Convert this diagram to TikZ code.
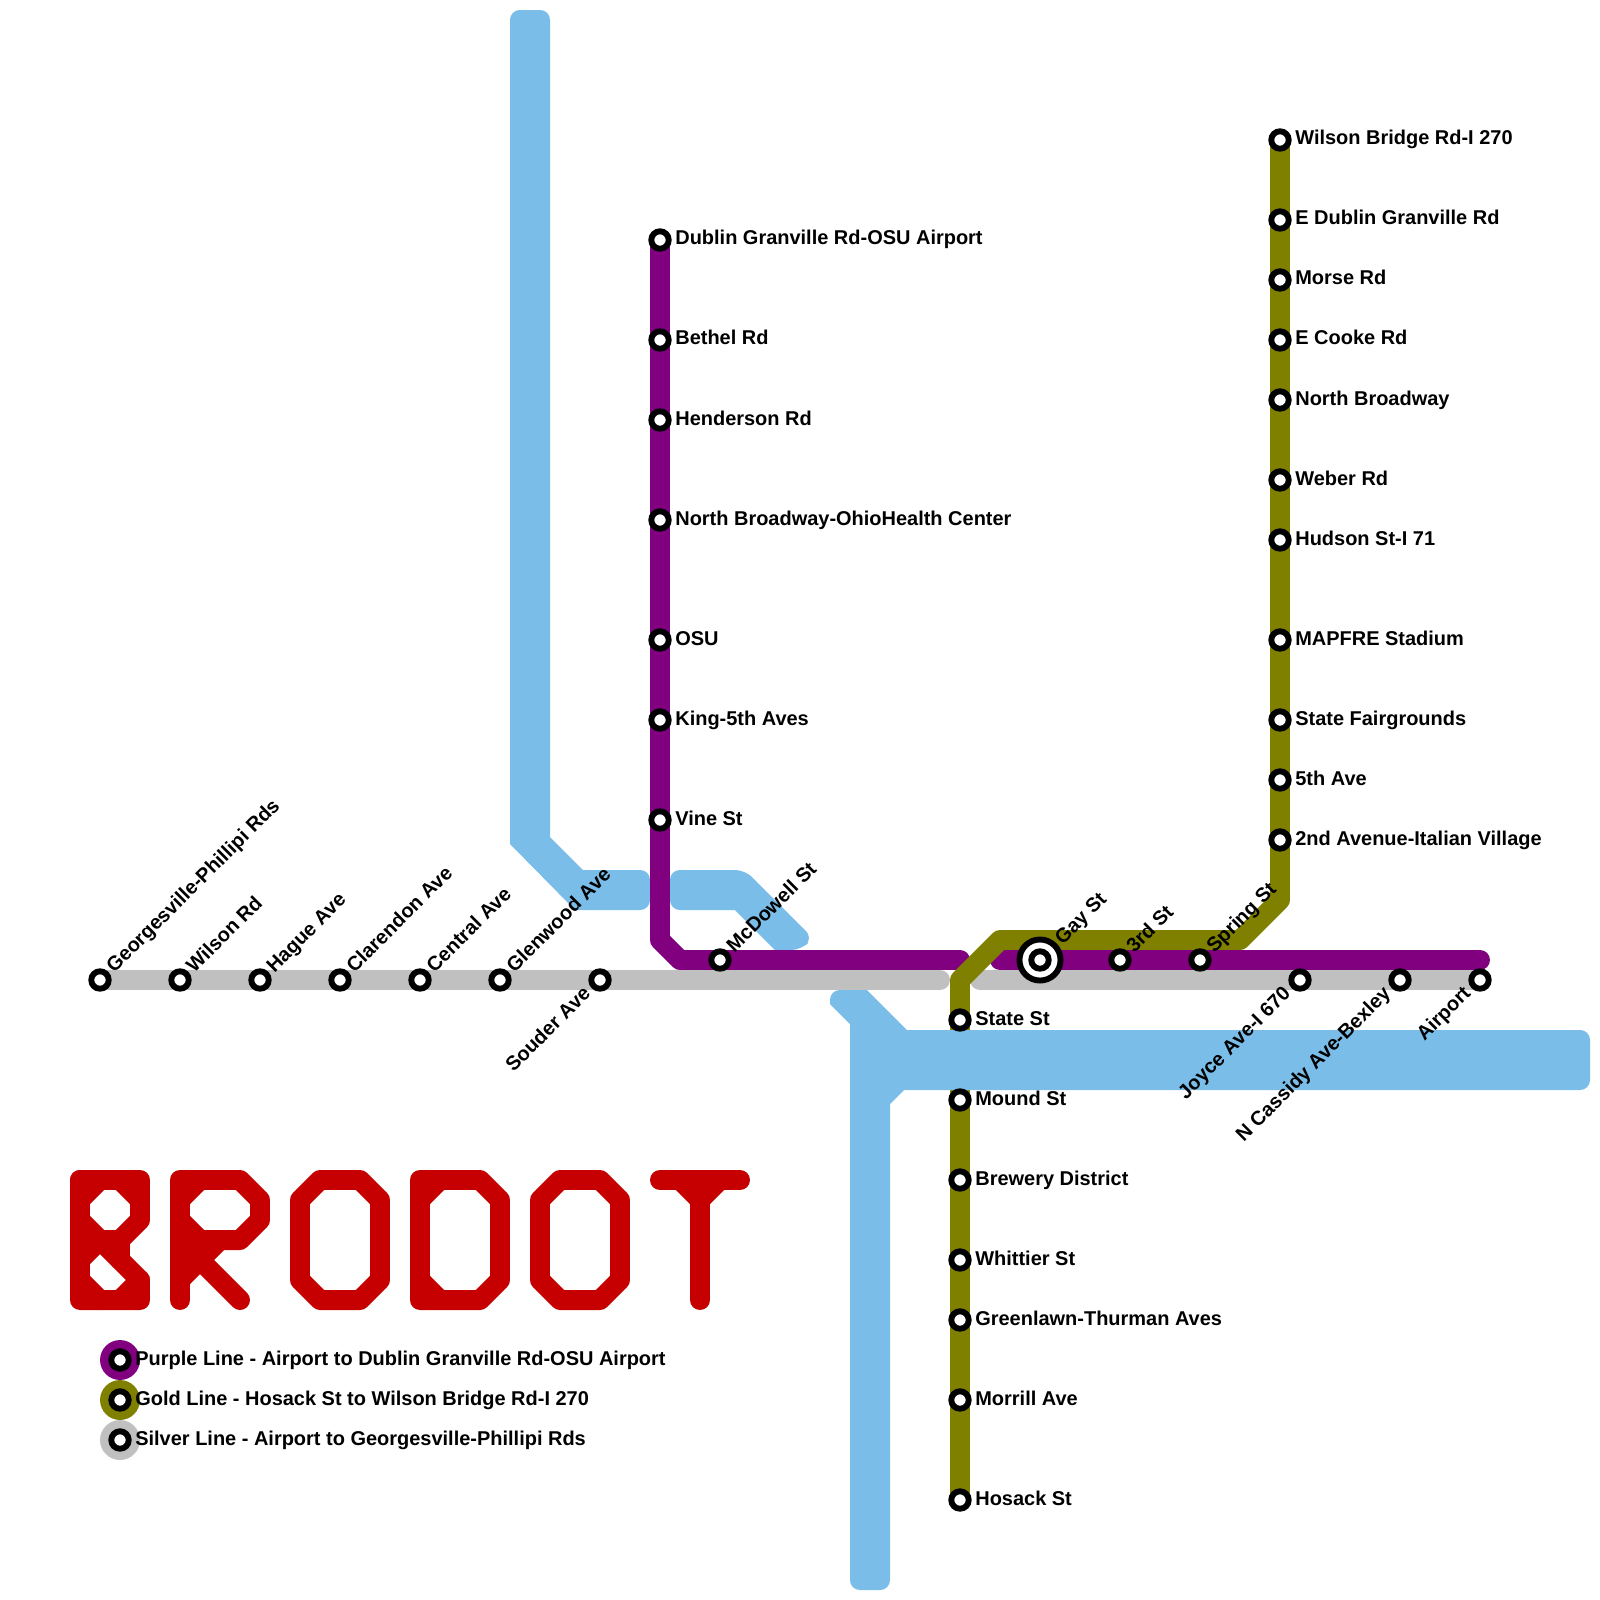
\documentclass[tikz,border=0pt]{standalone}
\usepackage{fontspec}
\setmainfont{Liberation Sans}
\usepackage{xcolor}
\usetikzlibrary{backgrounds}
\definecolor{riverblue}{HTML}{7ABDE9}
\definecolor{purpleln}{HTML}{800080}
\definecolor{goldln}{HTML}{808000}
\definecolor{silverln}{HTML}{C0C0C0}
\definecolor{logored}{HTML}{C60000}
\tikzstyle{stn} = [circle, draw=black, fill=white, line width=4.2pt, minimum size=12.4pt, inner sep=0pt]
\tikzstyle{stnbig} = [stn, minimum size=29.2pt]
\tikzstyle{legdisc} = [circle, minimum size=28.4pt, inner sep=0pt]
\tikzstyle{lblright} = [anchor=base west, inner sep=0pt, label distance=2.4pt, yshift=-3.55pt]
\tikzstyle{lblne} = [anchor=base west, inner sep=0pt, xshift=4.3pt, yshift=-1.4pt, rotate=45]
\tikzstyle{lblsw} = [anchor=base east, inner sep=0pt, yshift=-4.5pt, rotate=45]
\tikzstyle{river} = [fill=riverblue, rounded corners=7pt]
\tikzstyle{metroln} = [line width=14.2pt, line cap=round, line join=round]
\tikzstyle{logoln} = [line width=14.2pt, line cap=round, line join=round, color=logored]
\begin{document}
\begin{tikzpicture}[x=0.025cm, y=-0.025cm, font=\fontsize{14.2}{17}\bfseries\selectfont]
  \useasboundingbox (0,0) rectangle (1600,1600);

  % Silver
  \node[stn, label={[lblne]45:Georgesville-Phillipi Rds}](georgesville) at (100,980){};
  \node[stn, label={[lblne]45:Wilson Rd}](wilsonrd) at (180,980){};
  \node[stn, label={[lblne]45:Hague Ave}](hague) at (260,980){};
  \node[stn, label={[lblne]45:Clarendon Ave}](clarendon) at (340,980){};
  \node[stn, label={[lblne]45:Central Ave}](central) at (420,980){};
  \node[stn, label={[lblne]45:Glenwood Ave}](glenwood) at (500,980){};
  \node[stn, label={[lblsw]225:Souder Ave}](souder) at (600,980){};
  \node[stn, label={[lblsw]225:Joyce Ave-I 670}](joyce) at (1300,980){};
  \node[stn, label={[lblsw]225:N Cassidy Ave-Bexley}](cassidy) at (1400,980){};
  \node[stn, label={[lblsw]225:Airport}](airport) at (1480,980){};

  % Purple
  \node[stn, label={[lblright]right:Dublin Granville Rd-OSU Airport}](dublin) at (660,240){};
  \node[stn, label={[lblright]right:Bethel Rd}](bethel) at (660,340){};
  \node[stn, label={[lblright]right:Henderson Rd}](henderson) at (660,420){};
  \node[stn, label={[lblright]right:North Broadway-OhioHealth Center}](ohiohealth) at (660,520){};
  \node[stn, label={[lblright]right:OSU}](osu) at (660,640){};
  \node[stn, label={[lblright]right:King-5th Aves}](king) at (660,720){};
  \node[stn, label={[lblright]right:Vine St}](vine) at (660,820){};
  \node[stn, label={[lblne]45:McDowell St}](mcdowell) at (720,960){};
  \node[stnbig, label={[lblne]45:Gay St}](gayring) at (1040,960){};
  \node[stn](gay) at (1040,960){};
  \node[stn, label={[lblne]45:3rd St}](third) at (1120,960){};
  \node[stn, label={[lblne]45:Spring St}](spring) at (1200,960){};

  % Gold
  \node[stn, label={[lblright]right:Wilson Bridge Rd-I 270}](wilsonbridge) at (1280,140){};
  \node[stn, label={[lblright]right:E Dublin Granville Rd}](edublin) at (1280,220){};
  \node[stn, label={[lblright]right:Morse Rd}](morse) at (1280,280){};
  \node[stn, label={[lblright]right:E Cooke Rd}](cooke) at (1280,340){};
  \node[stn, label={[lblright]right:North Broadway}](broadway) at (1280,400){};
  \node[stn, label={[lblright]right:Weber Rd}](weber) at (1280,480){};
  \node[stn, label={[lblright]right:Hudson St-I 71}](hudson) at (1280,540){};
  \node[stn, label={[lblright]right:MAPFRE Stadium}](mapfre) at (1280,640){};
  \node[stn, label={[lblright]right:State Fairgrounds}](fair) at (1280,720){};
  \node[stn, label={[lblright]right:5th Ave}](fifth) at (1280,780){};
  \node[stn, label={[lblright]right:2nd Avenue-Italian Village}](second) at (1280,840){};
  \node[stn, label={[lblright]right:State St}](state) at (960,1020){};
  \node[stn, label={[lblright]right:Mound St}](mound) at (960,1100){};
  \node[stn, label={[lblright]right:Brewery District}](brewery) at (960,1180){};
  \node[stn, label={[lblright]right:Whittier St}](whittier) at (960,1260){};
  \node[stn, label={[lblright]right:Greenlawn-Thurman Aves}](greenlawn) at (960,1320){};
  \node[stn, label={[lblright]right:Morrill Ave}](morrill) at (960,1400){};
  \node[stn, label={[lblright]right:Hosack St}](hosack) at (960,1500){};

  % Legend
  \node[legdisc, fill=purpleln](legpurple) at (120,1360){};
  \node[legdisc, fill=goldln](leggold) at (120,1400){};
  \node[legdisc, fill=silverln](legsilver) at (120,1440){};
  \node[stn, label={[lblright]right:Purple Line - Airport to Dublin Granville Rd-OSU Airport}](keypurple) at (legpurple){};
  \node[stn, label={[lblright]right:Gold Line - Hosack St to Wilson Bridge Rd-I 270}](keygold) at (leggold){};
  \node[stn, label={[lblright]right:Silver Line - Airport to Georgesville-Phillipi Rds}](keysilver) at (legsilver){};

  % Bends and line ends
  \coordinate (silverend) at (940,980);
  \coordinate (silverstart) at (980,980);
  \coordinate (purplebend) at (660,940);
  \coordinate (purplelow) at (680,960);
  \coordinate (purpleend) at (960,960);
  \coordinate (purplestart) at (1000,960);
  \coordinate (purpletail) at (1480,960);
  \coordinate (goldlow) at (960,980);
  \coordinate (goldtop) at (1000,940);
  \coordinate (goldright) at (1240,940);
  \coordinate (goldup) at (1280,900);

  \begin{scope}[on background layer]
    % Rivers, upper part
    \fill[river] (530,10) -- (550,10) [sharp corners] -- (550,837) -- (583,870)
      [rounded corners=7pt] -- (650,870) -- (650,910) [sharp corners] -- (575,910)
      -- (510,844) [rounded corners=7pt] -- (510,10) -- cycle;
    \fill[river] (700,870) -- (745,870) -- (813,938) -- (801,950)
      [sharp corners] -- (775,950) -- (735,910) [rounded corners=7pt]
      -- (670,910) -- (670,870) -- cycle;
    % Lines
    \draw[metroln, silverln] (georgesville.center) -- (silverend);
    \draw[metroln, silverln] (silverstart) -- (airport.center);
    \draw[metroln, purpleln] (dublin.center) -- (purplebend) -- (purplelow) -- (purpleend);
    \draw[metroln, purpleln] (purplestart) -- (purpletail);
    \draw[metroln, goldln] (hosack.center) -- (goldlow) -- (goldtop) -- (goldright) -- (goldup) -- (wilsonbridge.center);
    % Rivers, lower part
    \fill[river] (850,1300) [sharp corners] -- (850,1024) -- (830,1004) [rounded corners=7pt]
      -- (830,990) [sharp corners] -- (867,990) -- (907,1030) [rounded corners=7pt]
      -- (1590,1030) -- (1590,1090) [sharp corners] -- (904,1090) -- (890,1104)
      [rounded corners=7pt] -- (890,1590) -- (850,1590) -- cycle;
  \end{scope}

  % Logo
  \draw[logoln] (80,1180) -- (140,1180) -- (140,1220) -- (120,1240) -- (100,1240) -- (80,1220);
  \draw[logoln] (80,1180) -- (80,1300) -- (140,1300) -- (140,1280) -- (100,1240);
  \draw[logoln] (80,1200) -- (100,1180);
  \draw[logoln] (120,1180) -- (140,1200);
  \draw[logoln] (120,1240) -- (120,1260);
  \draw[logoln] (80,1260) -- (100,1240);
  \draw[logoln] (80,1280) -- (100,1300);
  \draw[logoln] (120,1300) -- (140,1280);
  \draw[logoln] (180,1300) -- (180,1180) -- (240,1180) -- (260,1200) -- (260,1220) -- (240,1240) -- (180,1240);
  \draw[logoln] (180,1200) -- (200,1180);
  \draw[logoln] (180,1220) -- (200,1240);
  \draw[logoln] (180,1280) -- (220,1240);
  \draw[logoln] (180,1240) -- (240,1300);
  \draw[logoln] (320,1180) -- (360,1180) -- (380,1200) -- (380,1280) -- (360,1300) -- (320,1300) -- (300,1280) -- (300,1200) -- cycle;
  \draw[logoln] (420,1180) -- (480,1180) -- (500,1200) -- (500,1280) -- (480,1300) -- (420,1300) -- cycle;
  \draw[logoln] (420,1200) -- (440,1180);
  \draw[logoln] (420,1280) -- (440,1300);
  \draw[logoln] (560,1180) -- (600,1180) -- (620,1200) -- (620,1280) -- (600,1300) -- (560,1300) -- (540,1280) -- (540,1200) -- cycle;
  \draw[logoln] (660,1180) -- (740,1180);
  \draw[logoln] (700,1180) -- (700,1300);
  \draw[logoln] (680,1180) -- (700,1200) -- (720,1180);
\end{tikzpicture}
\end{document}
